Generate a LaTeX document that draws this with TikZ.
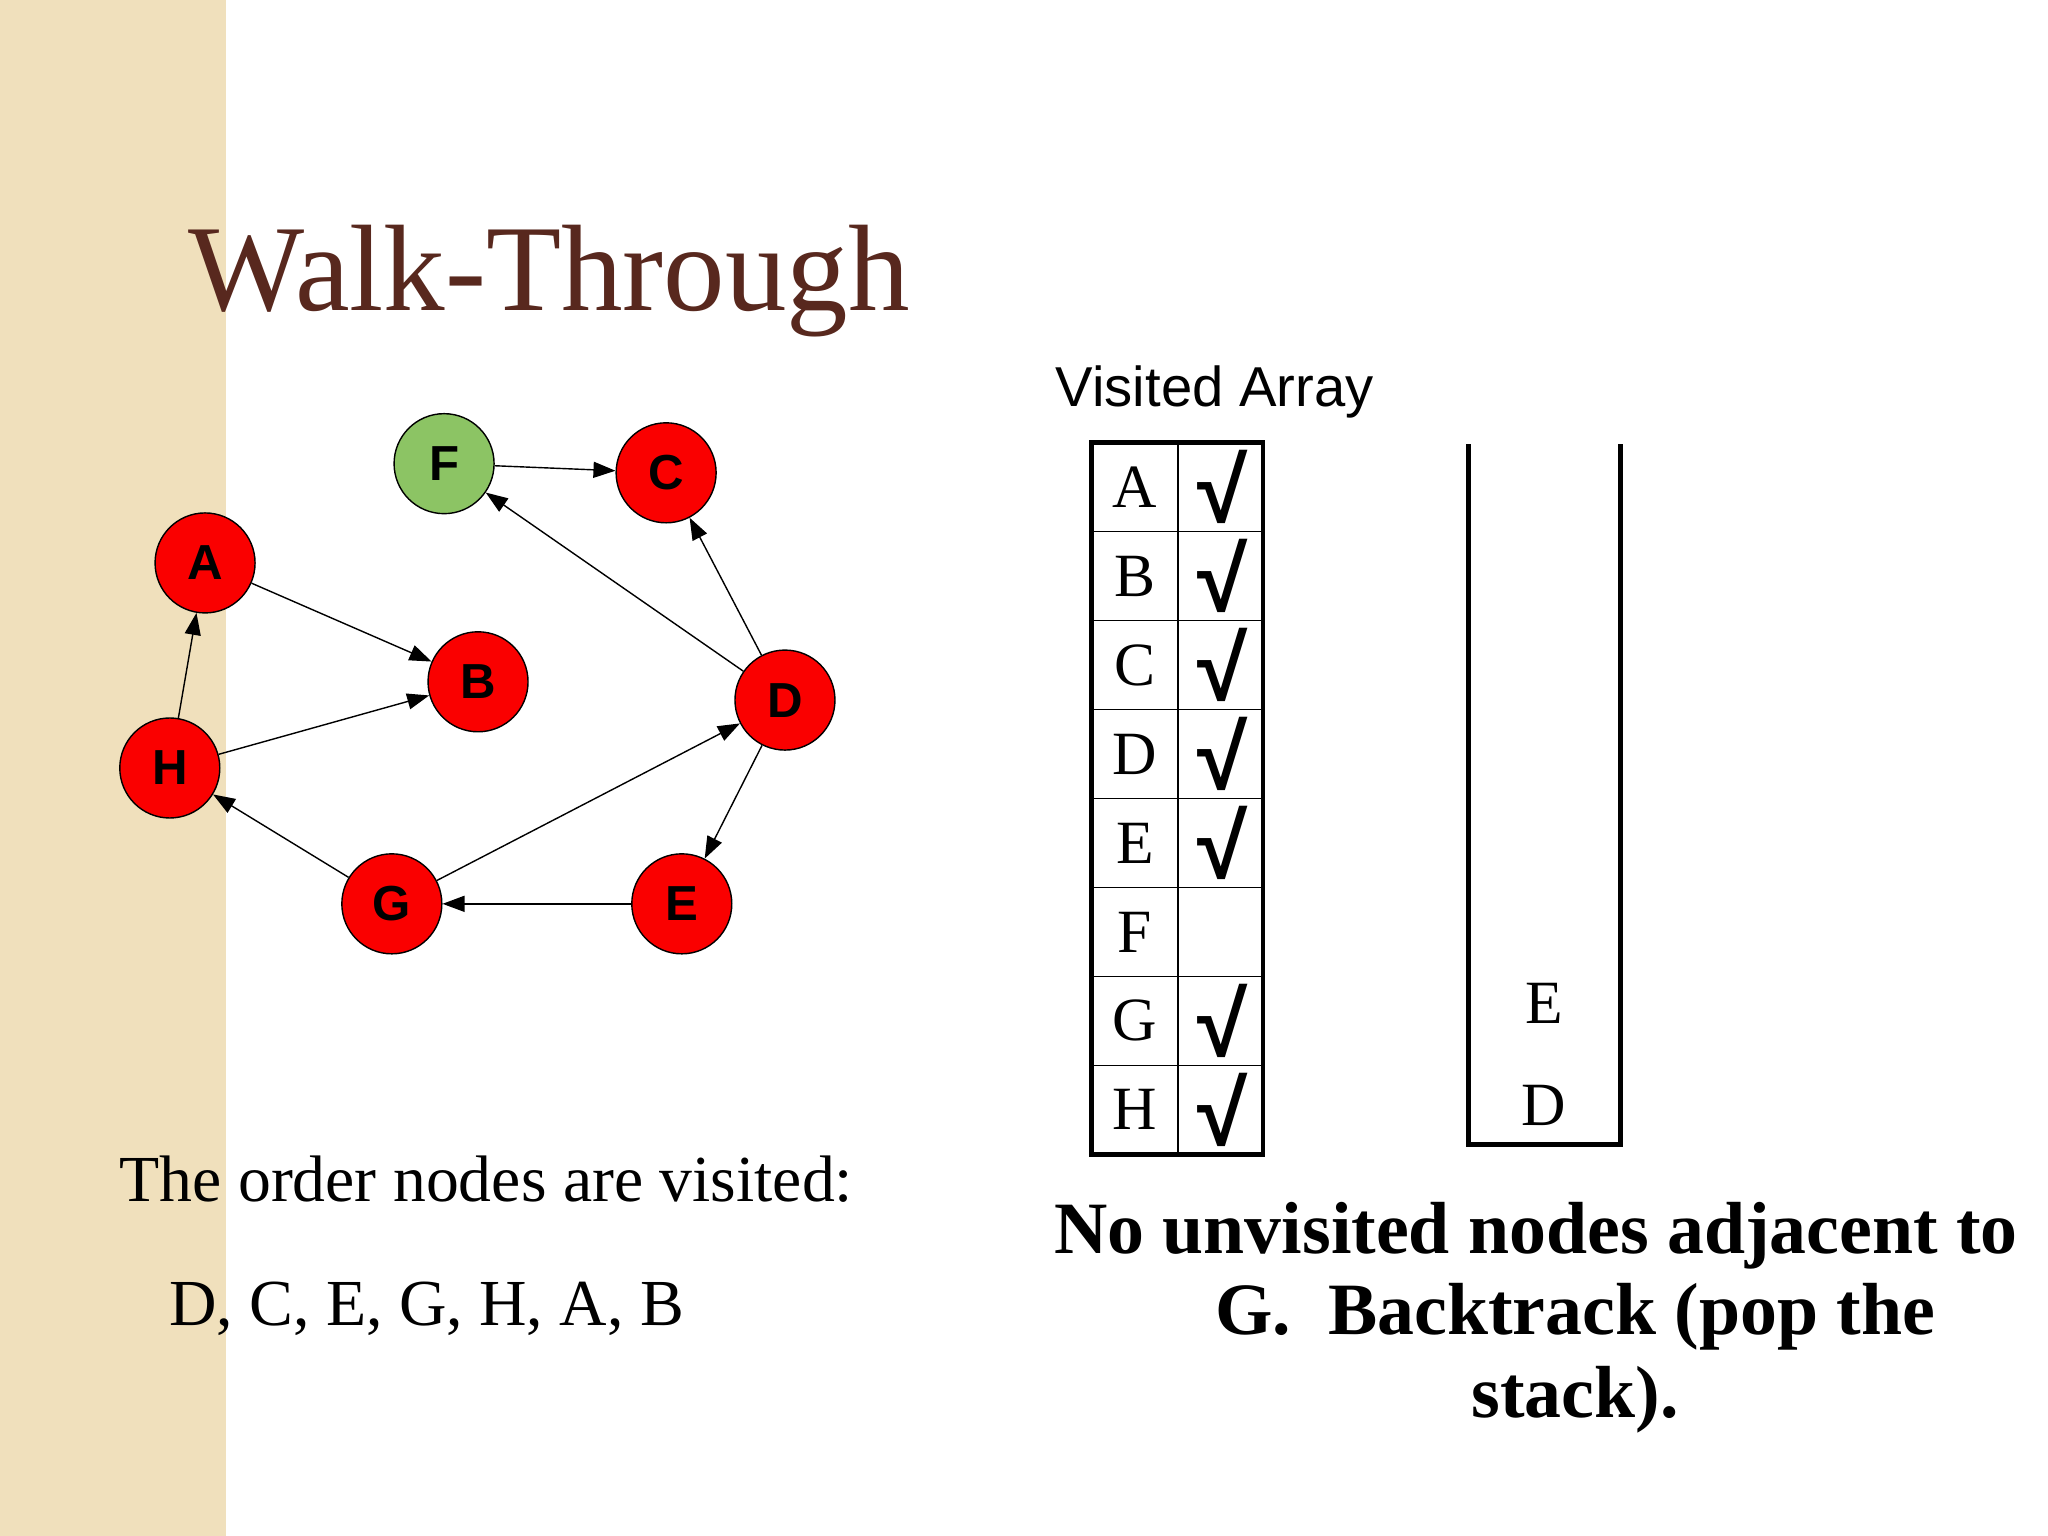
\documentclass[tikz,border=0pt]{standalone}
\usepackage{fontspec}
\setmainfont{Liberation Serif}
\newfontfamily\sansf{Liberation Sans}
\usetikzlibrary{arrows.meta, positioning, shapes}
\definecolor{strip}{RGB}{240,224,188}
\definecolor{titlebrown}{RGB}{88,40,30}
\definecolor{nodered}{RGB}{250,0,0}
\definecolor{nodegreen}{RGB}{140,196,100}
\begin{document}
\begin{tikzpicture}[
            x=0.013061cm, y=-0.013061cm,
            vert/.style={draw, circle, minimum size=1cm, fill=nodered, font=\sansf\bfseries\fontsize{14}{16}\selectfont},
            arrow/.style={-{Triangle[length=2.2mm, width=1.6mm]}, thin},
            cell/.style={font=\fontsize{17.5}{20}\selectfont},
            tick/.style={font=\sansf\bfseries\fontsize{26}{26}\selectfont}
        ]
        \useasboundingbox (0,0) rectangle (1568,1176);
        \fill[white] (0,0) rectangle (1568,1176);
        \fill[strip] (0,0) rectangle (173,1176);

        % Title
        \node[anchor=base west, text=titlebrown, font=\fontsize{35}{38}\selectfont] (title) at (135,238) {Walk-Through};

        % Graph
        \node[vert, fill=nodegreen] (F) at (340,355) {F};
        \node[vert] (C) at (510,362) {C};
        \node[vert] (A) at (157,431) {A};
        \node[vert] (B) at (366,522) {B};
        \node[vert] (D) at (601,536) {D};
        \node[vert] (H) at (130,588) {H};
        \node[vert] (G) at (300,692) {G};
        \node[vert] (E) at (522,692) {E};

        \draw[arrow] (F) -- (C);
        \draw[arrow] (D) -- (F);
        \draw[arrow] (D) -- (C);
        \draw[arrow] (A) -- (B);
        \draw[arrow] (H) -- (A);
        \draw[arrow] (H) -- (B);
        \draw[arrow] (G) -- (D);
        \draw[arrow] (D) -- (E);
        \draw[arrow] (E) -- (G);
        \draw[arrow] (G) -- (H);

        % Visited array
        \node[anchor=base, font=\sansf\fontsize{16}{18}\selectfont] (vlabel) at (930,311) {Visited Array};
        \draw[line width=1.4pt] (836,339) rectangle (967,884);
        \draw (902,339) -- (902,884);
        \foreach \i in {1,...,7}
            \draw (836,339+68.1*\i) -- (967,339+68.1*\i);
        \foreach \l [count=\i from 0] in {A,B,C,D,E,F,G,H}
            \node[cell] (row-\l) at (869,373+68.1*\i) {\l};
        \foreach \l/\i in {A/0,B/1,C/2,D/3,E/4,G/6,H/7}
            \node[tick] (chk-\l) at (936,373+68.1*\i) {√};

        % Stack
        \draw[line width=1.4pt] (1124,340) -- (1124,876) -- (1241,876) -- (1241,340);
        \node[cell] (stk-E) at (1182,768) {E};
        \node[cell] (stk-D) at (1182,846) {D};

        % Texts
        \node[anchor=base west, font=\fontsize{18.7}{22}\selectfont] (order) at (82,920) {The order nodes are visited:};
        \node[anchor=base west, font=\fontsize{18.7}{22}\selectfont] (seq) at (120,1015) {D, C, E, G, H, A, B};
        \node[anchor=base, font=\bfseries\fontsize{21}{24}\selectfont] (note1) at (1176,960) {No unvisited nodes adjacent to};
        \node[anchor=base, font=\bfseries\fontsize{21}{24}\selectfont] (note2) at (1206,1022) {G.\ \ Backtrack (pop the};
        \node[anchor=base, font=\bfseries\fontsize{21}{24}\selectfont] (note3) at (1206,1085) {stack).};
    \end{tikzpicture}
\end{document}
